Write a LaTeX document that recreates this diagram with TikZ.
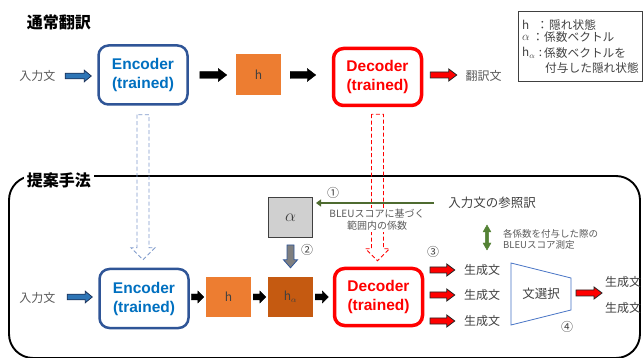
\documentclass[tikz,border=0pt]{standalone}
\usepackage{fontspec}
\setmainfont{Noto Sans CJK JP}
\newfontfamily\lat{Liberation Sans}
\usetikzlibrary{calc,arrows.meta}
\definecolor{encB}{HTML}{2F5597}
\definecolor{encT}{HTML}{0070C0}
\definecolor{orgA}{HTML}{ED7D31}
\definecolor{orgB}{HTML}{C55A11}
\definecolor{txtG}{HTML}{595959}
\definecolor{txtD}{HTML}{404040}
\definecolor{grnA}{HTML}{548235}
\definecolor{grnL}{HTML}{4E6B30}
\definecolor{arwB}{HTML}{2E75B6}
\definecolor{dashB}{HTML}{7F9ACB}
\definecolor{trapB}{HTML}{4472C4}
\definecolor{grayF}{HTML}{D0D0D0}
\definecolor{grayA}{HTML}{7F7F7F}
\newcommand\myfs[1]{\fontsize{#1}{#1}\selectfont}
\tikzset{
  sw/.store in=\bsw, hw/.store in=\bhw, hl/.store in=\bhl, sw=3pt, hw=6pt, hl=8pt,
  harrow/.style={to path={let \p1=(\tikztostart), \p2=(\tikztotarget) in
    (\x1,{\y1+\bsw}) -- ({\x2-\bhl},{\y1+\bsw}) -- ({\x2-\bhl},{\y1+\bhw}) -- (\x2,\y1)
    -- ({\x2-\bhl},{\y1-\bhw}) -- ({\x2-\bhl},{\y1-\bsw}) -- (\x1,{\y1-\bsw}) -- cycle}},
  varrow/.style={to path={let \p1=(\tikztostart), \p2=(\tikztotarget) in
    ({\x1-\bsw},\y1) -- ({\x1-\bsw},{\y2+\bhl}) -- ({\x1-\bhw},{\y2+\bhl}) -- (\x1,\y2)
    -- ({\x1+\bhw},{\y2+\bhl}) -- ({\x1+\bsw},{\y2+\bhl}) -- ({\x1+\bsw},\y1) -- cycle}},
  dvarrow/.style={to path={let \p1=(\tikztostart), \p2=(\tikztotarget) in
    (\x1,\y1) -- ({\x1+\bhw},{\y1-\bhl}) -- ({\x1+\bsw},{\y1-\bhl}) -- ({\x1+\bsw},{\y2+\bhl})
    -- ({\x1+\bhw},{\y2+\bhl}) -- (\x1,\y2) -- ({\x1-\bhw},{\y2+\bhl}) -- ({\x1-\bsw},{\y2+\bhl})
    -- ({\x1-\bsw},{\y1-\bhl}) -- ({\x1-\bhw},{\y1-\bhl}) -- cycle}},
  blackarr/.style={harrow, fill=black, draw=black, line width=0.4pt, sw=3.5pt, hw=6.5pt, hl=8.5pt},
  redarr/.style={harrow, fill=red, draw=black!85, line width=0.8pt, sw=3pt, hw=6pt, hl=8pt},
  bluearr/.style={harrow, fill=arwB, draw=encB!60!black, line width=0.8pt, sw=2.8pt, hw=5.8pt, hl=7pt},
  grayarr/.style={varrow, fill=grayA, draw=encB, line width=0.8pt, sw=3.5pt, hw=7pt, hl=8pt},
  hollowarr/.style={varrow, dash pattern=on 4pt off 2.5pt, line width=0.9pt, sw=6pt, hw=12pt, hl=12pt},
  greenarr/.style={dvarrow, fill=grnA, draw=grnA, line width=0.4pt, sw=1.6pt, hw=4pt, hl=7pt},
  title/.style={font=\bfseries\myfs{16}, inner sep=3pt},
  lbl/.style={font=\myfs{12}},
  leg/.style={font=\myfs{11.7}, text=txtD},
  encbox/.style={draw=encB, line width=2.5pt, rounded corners=10pt, fill=white,
    minimum width=89pt, minimum height=59pt, text=encT, align=center,
    font=\lat\bfseries\fontsize{15.5}{19}\selectfont},
  decbox/.style={draw=red, line width=3.5pt, rounded corners=10pt, fill=white,
    minimum width=88pt, minimum height=57pt, text=red, align=center,
    font=\lat\bfseries\fontsize{15.5}{19}\selectfont},
  hbox/.style={fill=orgA, minimum width=45pt, minimum height=41pt, text=txtD, font=\myfs{12}},
  habox/.style={fill=orgB, minimum width=45pt, minimum height=40pt, text=txtD, font=\myfs{12}},
  abox/.style={fill=grayF, draw=txtD, line width=1pt, minimum width=44pt, minimum height=40pt, font=\myfs{16}, text=txtD},
  num/.style={font=\myfs{12}, text=txtD}
}
\begin{document}
\begin{tikzpicture}[x=1pt, y=-1pt, every node/.style={inner sep=0pt}]
\useasboundingbox (0,0) rectangle (643,358);
% frame of the proposed method
\draw[line width=1.9pt, rounded corners=24pt] (9,176) rectangle (640,358);
\node[title] (t1) at (59,22) {通常翻訳};
\node[title, fill=white] (t2) at (59,180) {提案手法};

% legend
\draw[txtD, line width=0.9pt] (518,11) rectangle (642,81);
\node[leg, anchor=west] (l1a) at (522,25) {h};
\node[leg] (l1b) at (542.5,25) {：};
\node[leg, anchor=west] (l1c) at (549,25) {隠れ状態};
\node[leg, anchor=west, font=\myfs{13}] (l2a) at (522,37.5) {$\alpha$};
\node[leg] (l2b) at (538,37.5) {：};
\node[leg, anchor=west] (l2c) at (544,37.5) {係数ベクトル};
\node[leg, anchor=west] (l3a) at (522,53) {h$_{\alpha}$};
\node[leg] (l3b) at (540.5,53) {:};
\node[leg, anchor=west] (l3c) at (544,53) {係数ベクトルを};
\node[leg, anchor=west] (l4) at (545,68) {付与した隠れ状態};

% top row: normal translation
\node[lbl, text=txtG] (in1) at (37.5,76) {入力文};
\node[encbox] (enc1) at (143,75) {Encoder\\(trained)};
\node[hbox] (h1) at (258.5,74.5) {h};
\node[decbox] (dec1) at (377.5,77) {Decoder\\(trained)};
\node[lbl, text=txtG] (out1) at (483.5,76) {翻訳文};
\draw[bluearr] ([xshift=9.5pt]in1.east) to ([xshift=-6pt]enc1.west |- in1.east);
\draw[blackarr] ([xshift=11pt]enc1.east) to ([xshift=-9pt]h1.west |- enc1.east);
\draw[blackarr] ([xshift=9pt]h1.east |- enc1.east) to ([xshift=-16pt]dec1.west |- enc1.east);
\draw[redarr] ([xshift=7pt]dec1.east |- enc1.east) to ([xshift=-8.5pt]out1.west |- enc1.east);

% bottom row
\node[lbl, text=txtG] (in2) at (37.5,298) {入力文};
\node[encbox] (enc2) at (144,298.5) {Encoder\\(trained)};
\node[hbox, minimum height=40pt] (h2) at (228.5,297) {h};
\node[habox] (ha) at (290.5,297) {h$_{\alpha}$};
\node[decbox] (dec2) at (378.5,297) {Decoder\\(trained)};
\node[abox] (al) at (290.5,217.5) {$\alpha$};

% hollow dashed arrows (reuse of trained models)
\draw[hollowarr, draw=dashB] ([yshift=-9pt]enc1.south) to ([yshift=8pt]enc1.south |- enc2.north);
\draw[hollowarr, draw=red] ([yshift=-7pt]dec1.south) to ([yshift=6pt]dec1.south |- dec2.north);

\draw[bluearr] ([xshift=11.5pt]in2.east |- h2.west) to ([xshift=-6pt]enc2.west |- h2.west);
\draw[blackarr, sw=3pt, hw=6pt, hl=6pt] ([xshift=1.5pt]enc2.east |- h2.west) to ([xshift=-2pt]h2.west);
\draw[blackarr, sw=3pt, hw=6pt, hl=6pt] ([xshift=2pt]h2.east) to ([xshift=-2pt]ha.west);
\draw[blackarr, sw=3pt, hw=6pt, hl=6pt] ([xshift=2pt]ha.east) to ([xshift=-4.5pt]dec2.west |- ha.east);
\draw[grayarr] ([yshift=-7pt]al.south) to ([yshift=9pt]ha.north);

% reference translation and coefficient range
\node[lbl, text=txtD, font=\myfs{12.5}] (ref) at (492,203) {入力文の参照訳};
\draw[grnL, line width=1.6pt, -{Triangle[length=5pt,width=7pt]}] ([xshift=-14pt]ref.west) to ([xshift=3pt]al.east |- ref.west);
\node[fill=white, inner sep=1.5pt, align=center, text=txtG, font=\fontsize{10}{12}\selectfont] (bleu) at (377,220) {BLEUスコアに基づく\\範囲内の係数};
\node[num] (n1) at (333,193) {①};
\node[num] (n2) at (307,250) {②};
\node[num] (n3) at (433,252) {③};

% generated sentences
\node[lbl, text=txtD] (g1) at (482,270) {生成文};
\node[lbl, text=txtD] (g2) at (482,295) {生成文};
\node[lbl, text=txtD] (g3) at (482,321) {生成文};
\draw[redarr] ([xshift=5.75pt]dec2.east |- g1.west) to ([xshift=-9pt]g1.west);
\draw[redarr] ([xshift=5.75pt]dec2.east |- g2.west) to ([xshift=-9pt]g2.west);
\draw[redarr] ([xshift=5.75pt]dec2.east |- g3.west) to ([xshift=-9pt]g3.west);

% BLEU measurement
\node[anchor=west, align=left, text=txtG, font=\fontsize{9.5}{11.5}\selectfont] (meas) at (503,239.5) {各係数を付与した際の\\BLEUスコア測定};
\coordinate (gdA) at (487,225);
\coordinate (gdB) at (487,250);
\draw[greenarr] (gdA) to (gdB);

% sentence selection
\draw[trapB, line width=0.8pt] (511,263) -- (571,278) -- (571,310) -- (511,325) -- cycle;
\node[lbl, text=txtD, font=\myfs{12.5}] (sel) at (541,294) {文選択};
\coordinate (selR) at (571,293);
\coordinate (selO) at (602,293);
\draw[redarr] ([xshift=5pt]selR) to (selO);
\node[lbl, text=txtD] (o1) at (623,282) {生成文};
\node[lbl, text=txtD] (o2) at (623,308) {生成文};
\node[num] (n4) at (567,327) {④};
\end{tikzpicture}
\end{document}
